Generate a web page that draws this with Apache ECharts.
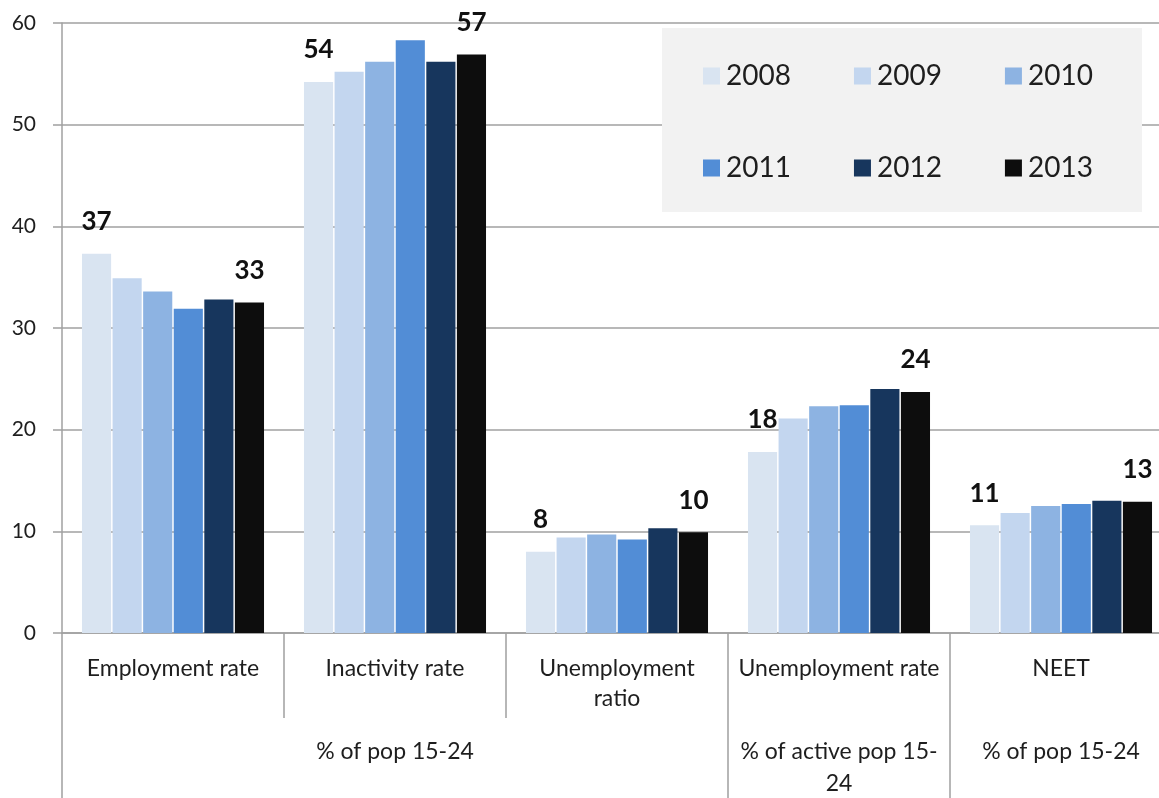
<!DOCTYPE html>
<html>
<head>
<meta charset="utf-8">
<script src="https://cdn.jsdelivr.net/npm/echarts@6/dist/echarts.min.js"></script>
<style>
html,body{margin:0;padding:0;background:#fff;}
#chart{width:1159px;height:798px;}
</style>
</head>
<body>
<div id="chart"></div>
<script>
const categories = ['Employment rate', 'Inactivity rate', 'Unemployment\nratio', 'Unemployment rate', 'NEET'];
const groupLabels = ['', '% of pop 15-24', '', '% of active pop 15-\n24', '% of pop 15-24'];
const groupStarts = [0, 3, 4];
const years = ['2008', '2009', '2010', '2011', '2012', '2013'];
const v2008 = [37.3, 54.2, 8.0, 17.8, 10.6];
const v2009 = [34.9, 55.2, 9.4, 21.1, 11.8];
const v2010 = [33.6, 56.2, 9.7, 22.3, 12.5];
const v2011 = [31.9, 58.3, 9.2, 22.4, 12.7];
const v2012 = [32.8, 56.2, 10.3, 24.0, 13.0];
const v2013 = [32.5, 56.9, 9.9, 23.7, 12.9];
const colors = ['#d9e4f1', '#c3d6ef', '#8db3e2', '#528dd6', '#17365d', '#0d0d0d'];
const yTicks = { min: 0, max: 60, interval: 10 };

const values = [v2008, v2009, v2010, v2011, v2012, v2013];
const FONT = 'Lato';
const gray = '#a0a0a0';
const textColor = '#1e1e1e';

const chart = echarts.init(document.getElementById('chart'));
const series = years.map((y, i) => ({
  name: y,
  type: 'bar',
  data: values[i],
  barGap: '5%',
  barCategoryGap: '18%',
  itemStyle: { color: colors[i] },
  label: {
    show: i === 0 || i === years.length - 1,
    position: 'top',
    distance: 19,
    fontFamily: FONT,
    fontWeight: 'bold',
    fontSize: 26,
    color: '#111',
    formatter: p => Math.round(p.value)
  }
}));

const legendCommon = {
  orient: 'horizontal',
  left: 698,
  itemWidth: 17,
  itemHeight: 17,
  itemGap: 63,
  icon: 'rect',
  z: 10,
  textStyle: { fontFamily: FONT, fontSize: 28, color: textColor, width: 70, padding: [0, 0, 0, 1] }
};

chart.setOption({
  animation: false,
  textStyle: { fontFamily: FONT },
  graphic: [{
    type: 'rect', left: 662, top: 28, z: 5,
    shape: { width: 480, height: 184 },
    style: { fill: '#f2f2f2' }
  }],
  legend: [
    Object.assign({}, legendCommon, { top: 57, data: years.slice(0, 3) }),
    Object.assign({}, legendCommon, { top: 149, data: years.slice(3) })
  ],
  grid: { left: 62, right: -13, top: 23, bottom: 165, containLabel: false, outerBoundsMode: 'none' },
  xAxis: [{
    type: 'category',
    data: categories,
    axisLine: { show: true, lineStyle: { color: gray, width: 1.5 } },
    axisTick: { show: true, interval: 0, length: 85, lineStyle: { color: gray, width: 1.5 } },
    axisLabel: { interval: 0, margin: 21, fontFamily: FONT, fontSize: 23, lineHeight: 30, color: textColor }
  }, {
    type: 'category',
    data: categories,
    position: 'bottom',
    offset: 85,
    axisLine: { show: false },
    axisTick: { show: true, length: 85, interval: (idx) => groupStarts.indexOf(idx) >= 0, lineStyle: { color: gray, width: 1.5 } },
    axisLabel: { interval: 0, margin: 18, fontFamily: FONT, fontSize: 23, lineHeight: 32, color: textColor,
      formatter: (val, idx) => groupLabels[idx] }
  }],
  yAxis: {
    type: 'value',
    min: yTicks.min, max: yTicks.max, interval: yTicks.interval,
    axisLine: { show: true, lineStyle: { color: gray, width: 1.5 } },
    axisTick: { show: true, length: 9, lineStyle: { color: gray, width: 1.5 } },
    splitLine: { show: true, lineStyle: { color: gray, width: 1.5 } },
    axisLabel: { margin: 26, fontFamily: FONT, fontSize: 21, color: textColor }
  },
  series: series
});
</script>
</body>
</html>
